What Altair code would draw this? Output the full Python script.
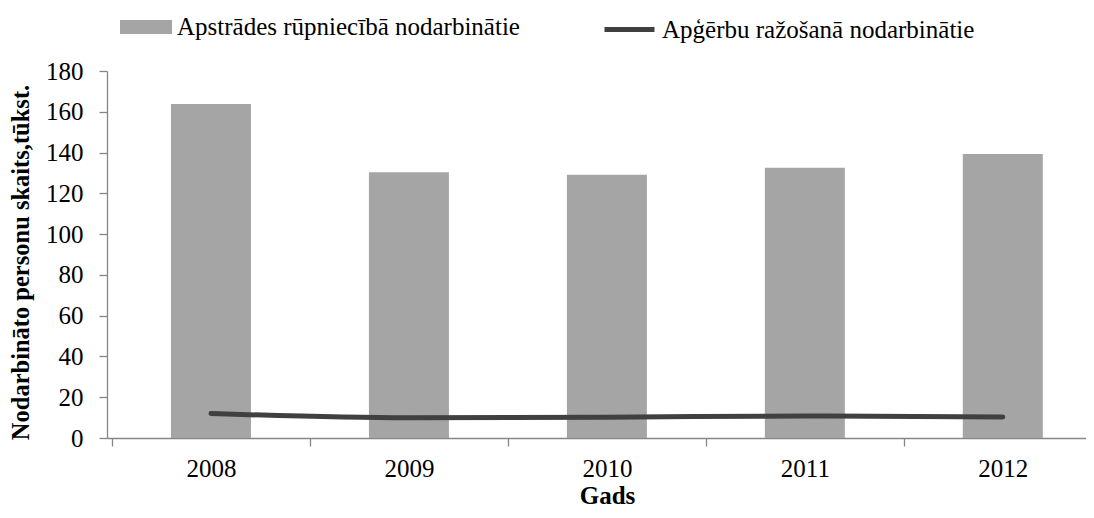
import altair as alt
import pandas as pd

years = [2008, 2009, 2010, 2011, 2012]
manufacturing = [163.8, 130.3, 129.1, 132.6, 139.3]
apparel = [12.0, 9.9, 10.2, 10.8, 10.3]
bar_name = "Apstrādes rūpniecībā nodarbinātie"
line_name = "Apģērbu ražošanā nodarbinātie"
boundaries = [2007.5, 2008.5, 2009.5, 2010.5, 2011.5]
y_ticks = [0, 20, 40, 60, 80, 100, 120, 140, 160, 180]

df = pd.DataFrame({"year": years, "manufacturing": manufacturing, "apparel": apparel,
                   "bar_s": [bar_name] * 5, "line_s": [line_name] * 5})

FONT = "Liberation Serif"
W = 979
x_dom = [2007.5, 2007.5 + W / 200]

x_enc = alt.X("year:Q", scale=alt.Scale(domain=x_dom, nice=False, zero=False),
              axis=alt.Axis(values=sorted(years + boundaries), title="Gads",
                            labelExpr="datum.value % 1 === 0 ? '' + datum.value : ''",
                            tickOpacity={"condition": {"test": "datum.value % 1 === 0", "value": 0}, "value": 1},
                            labelOverlap=False, labelFlush=False,
                            tickSize=8, labelPadding=10, titlePadding=2, titleX=500,
                            titleFontSize=25))

bars = alt.Chart(df).mark_bar(size=80).encode(
    x=x_enc,
    y=alt.Y("manufacturing:Q", scale=alt.Scale(domain=[0, 180], nice=False),
            axis=alt.Axis(values=y_ticks, title="Nodarbināto personu skaits,tūkst.",
                          tickSize=8, labelPadding=16, titlePadding=12, titleFontSize=24.5,
                          titleY=191)),
    fill=alt.Fill("bar_s:N", scale=alt.Scale(range=["#a5a5a5"]),
                  legend=alt.Legend(title=None, orient="none", legendX=13, legendY=-70,
                                    symbolType="M-1,-0.27H1V0.27H-1Z", symbolSize=2704,
                                    symbolStrokeWidth=0, labelOffset=5, padding=0)),
)

line = alt.Chart(df).mark_line(strokeWidth=5, interpolate="monotone", strokeCap="round").encode(
    x=alt.X("year:Q"),
    y=alt.Y("apparel:Q"),
    stroke=alt.Stroke("line_s:N", scale=alt.Scale(range=["#404040"]),
                      legend=alt.Legend(title=None, orient="none", legendX=495, legendY=-69,
                                        symbolType="M-1,0H1", symbolSize=2500,
                                        symbolStrokeWidth=5, labelOffset=5, padding=0)),
)

chart = alt.layer(bars, line).resolve_scale(fill="independent", stroke="independent").properties(
    width=W, height=367,
    autosize=alt.AutoSizeParams(type="none"),
    padding={"left": 99, "top": 63, "right": 0, "bottom": 72},
).configure_view(stroke=None).configure_axis(
    grid=False, domainColor="#868686", tickColor="#868686", domainWidth=1.3, tickWidth=1.3,
    labelFont=FONT, labelFontSize=25, labelColor="black",
    titleFont=FONT, titleFontWeight="bold", titleColor="black",
).configure_legend(labelFont=FONT, labelFontSize=25, labelColor="black", labelLimit=0)

chart.save("out.html", embed_options={"renderer": "svg", "actions": False})
